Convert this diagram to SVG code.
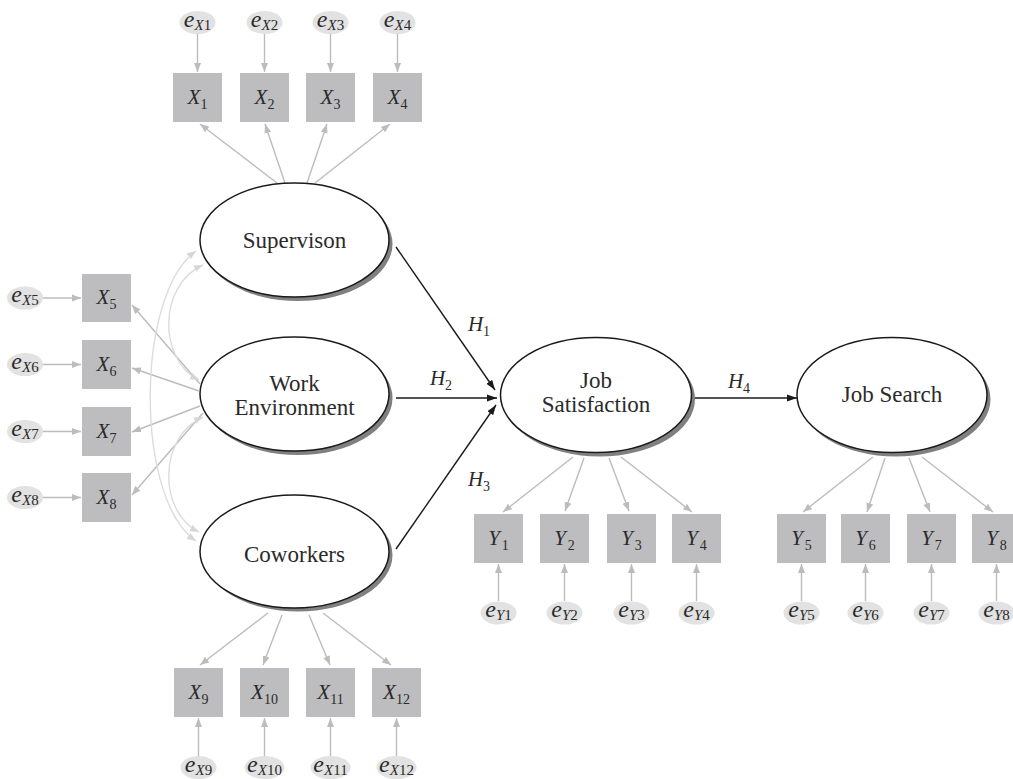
<svg xmlns="http://www.w3.org/2000/svg" width="1013" height="779" viewBox="0 0 1013 779">
<defs>
<style>
.box{fill:#bdbdc0;}
.err{fill:#e2e2e2;}
.lat{fill:#fff;stroke:#1a1a1a;stroke-width:1.5;}
.shd{fill:#808080;}
.t{font-family:'Liberation Serif','Times New Roman','DejaVu Serif',serif;fill:#2a2a2a;}
.big{font-size:23px;text-anchor:middle;}
.var{font-size:21px;text-anchor:middle;}
.hl{font-size:21px;text-anchor:middle;}
.ev{font-size:24px;text-anchor:middle;}
.it{font-style:italic;}
.ld{stroke:#bcbcbc;stroke-width:1.4;fill:none;marker-end:url(#ag);}
.cv{stroke:#dcdcdc;stroke-width:1.4;fill:none;marker-end:url(#al);marker-start:url(#al);}
.st{stroke:#1a1a1a;stroke-width:1.4;fill:none;marker-end:url(#ab);}
</style>
<marker id="ag" markerUnits="userSpaceOnUse" markerWidth="10" markerHeight="8" refX="9" refY="4" orient="auto"><path d="M0,0.5 L9,4 L0,7.5 z" fill="#bcbcbc"/></marker>
<marker id="al" markerUnits="userSpaceOnUse" markerWidth="10" markerHeight="8" refX="9" refY="4" orient="auto-start-reverse"><path d="M0,0.5 L9,4 L0,7.5 z" fill="#d6d6d6"/></marker>
<marker id="ab" markerUnits="userSpaceOnUse" markerWidth="11" markerHeight="8" refX="10" refY="4" orient="auto"><path d="M0,0.5 L10,4 L0,7.5 z" fill="#1a1a1a"/></marker>
</defs>
<rect width="1013" height="779" fill="#fff"/>

<g id="connectors">
<line class="ld" x1="197.5" y1="34" x2="197.5" y2="72"/>
<line class="ld" x1="264.5" y1="34" x2="264.5" y2="72"/>
<line class="ld" x1="330.5" y1="34" x2="330.5" y2="72"/>
<line class="ld" x1="397.5" y1="34" x2="397.5" y2="72"/>
<line class="ld" x1="43" y1="298" x2="81" y2="298"/>
<line class="ld" x1="43" y1="364.5" x2="81" y2="364.5"/>
<line class="ld" x1="43" y1="431.5" x2="81" y2="431.5"/>
<line class="ld" x1="43" y1="497.5" x2="81" y2="497.5"/>
<line class="ld" x1="198.5" y1="756" x2="198.5" y2="718"/>
<line class="ld" x1="264.5" y1="756" x2="264.5" y2="718"/>
<line class="ld" x1="330.5" y1="756" x2="330.5" y2="718"/>
<line class="ld" x1="396.5" y1="756" x2="396.5" y2="718"/>
<line class="ld" x1="498.5" y1="601" x2="498.5" y2="564"/>
<line class="ld" x1="564.5" y1="601" x2="564.5" y2="564"/>
<line class="ld" x1="631.5" y1="601" x2="631.5" y2="564"/>
<line class="ld" x1="696.5" y1="601" x2="696.5" y2="564"/>
<line class="ld" x1="801.5" y1="601" x2="801.5" y2="564"/>
<line class="ld" x1="865.5" y1="601" x2="865.5" y2="564"/>
<line class="ld" x1="931.5" y1="601" x2="931.5" y2="564"/>
<line class="ld" x1="996.5" y1="601" x2="996.5" y2="564"/>
<line class="ld" x1="277" y1="183" x2="200" y2="124"/>
<line class="ld" x1="285" y1="183" x2="265" y2="124"/>
<line class="ld" x1="307" y1="183" x2="327" y2="124"/>
<line class="ld" x1="315" y1="183" x2="390" y2="124"/>
<line class="ld" x1="200" y1="384" x2="132" y2="305"/>
<line class="ld" x1="199" y1="391" x2="132" y2="368"/>
<line class="ld" x1="200" y1="406" x2="132" y2="432"/>
<line class="ld" x1="203" y1="413" x2="132" y2="495"/>
<line class="ld" x1="268" y1="613" x2="200" y2="665"/>
<line class="ld" x1="282" y1="615" x2="263" y2="665"/>
<line class="ld" x1="309" y1="615" x2="330" y2="665"/>
<line class="ld" x1="323" y1="613" x2="391" y2="665"/>
<line class="ld" x1="573" y1="457" x2="503" y2="512"/>
<line class="ld" x1="584" y1="458" x2="565" y2="511"/>
<line class="ld" x1="609" y1="458" x2="629" y2="511"/>
<line class="ld" x1="621" y1="457" x2="692" y2="512"/>
<line class="ld" x1="873" y1="457" x2="803" y2="512"/>
<line class="ld" x1="885" y1="458" x2="867" y2="512"/>
<line class="ld" x1="909" y1="458" x2="930" y2="512"/>
<line class="ld" x1="922" y1="457" x2="993" y2="512"/>
<path class="cv" d="M196,251 C135,295 135,500 196,541"/>
<path class="cv" d="M203,265 C158,285 158,360 199,380"/>
<path class="cv" d="M203,417 C158,437 158,512 199,532"/>
<line class="st" x1="396" y1="247" x2="495" y2="390"/>
<line class="st" x1="396" y1="398" x2="497" y2="398"/>
<line class="st" x1="396" y1="549" x2="496" y2="405"/>
<line class="st" x1="693" y1="398" x2="797" y2="398"/>
<text class="t hl it" x="479" y="331">H<tspan font-size="14" font-style="normal" dy="5">1</tspan></text>
<text class="t hl it" x="441" y="385">H<tspan font-size="14" font-style="normal" dy="5">2</tspan></text>
<text class="t hl it" x="479" y="486">H<tspan font-size="14" font-style="normal" dy="5">3</tspan></text>
<text class="t hl it" x="739" y="388">H<tspan font-size="14" font-style="normal" dy="5">4</tspan></text>
</g>

<g id="supervision">
<ellipse class="shd" cx="298" cy="244" rx="94.5" ry="57"/>
<ellipse class="lat" cx="294.5" cy="240" rx="94.5" ry="57"/>
<text class="t big" x="294.5" y="248">Supervison</text>
</g>
<g id="work-environment">
<ellipse class="shd" cx="298" cy="398" rx="94.5" ry="57"/>
<ellipse class="lat" cx="294.5" cy="394" rx="94.5" ry="57"/>
<text class="t big" x="294.5" y="391">Work</text>
<text class="t big" x="294.5" y="415">Environment</text>
</g>
<g id="coworkers">
<ellipse class="shd" cx="298" cy="555" rx="94.5" ry="56.5"/>
<ellipse class="lat" cx="294.5" cy="551.5" rx="94.5" ry="56.5"/>
<text class="t big" x="294.5" y="562">Coworkers</text>
</g>
<g id="job-satisfaction">
<ellipse class="shd" cx="599.5" cy="399" rx="95.5" ry="57.5"/>
<ellipse class="lat" cx="596" cy="395" rx="95.5" ry="57.5"/>
<text class="t big" x="596" y="388">Job</text>
<text class="t big" x="596" y="412">Satisfaction</text>
</g>
<g id="job-search">
<ellipse class="shd" cx="895.5" cy="399" rx="95" ry="57.5"/>
<ellipse class="lat" cx="892" cy="395" rx="95" ry="57.5"/>
<text class="t big" x="892" y="402">Job Search</text>
</g>

<g id="X1"><rect class="box" x="173" y="73" width="49" height="49"/><text class="t var it" x="197.5" y="104">X<tspan font-size="14" font-style="normal" dy="5">1</tspan></text></g>
<g id="X2"><rect class="box" x="240" y="73" width="49" height="49"/><text class="t var it" x="264.5" y="104">X<tspan font-size="14" font-style="normal" dy="5">2</tspan></text></g>
<g id="X3"><rect class="box" x="306" y="73" width="49" height="49"/><text class="t var it" x="330.5" y="104">X<tspan font-size="14" font-style="normal" dy="5">3</tspan></text></g>
<g id="X4"><rect class="box" x="373" y="73" width="49" height="49"/><text class="t var it" x="397.5" y="104">X<tspan font-size="14" font-style="normal" dy="5">4</tspan></text></g>
<g id="X5"><rect class="box" x="82" y="274" width="49" height="48"/><text class="t var it" x="106.5" y="304">X<tspan font-size="14" font-style="normal" dy="5">5</tspan></text></g>
<g id="X6"><rect class="box" x="82" y="340" width="49" height="49"/><text class="t var it" x="106.5" y="371">X<tspan font-size="14" font-style="normal" dy="5">6</tspan></text></g>
<g id="X7"><rect class="box" x="82" y="407" width="49" height="49"/><text class="t var it" x="106.5" y="438">X<tspan font-size="14" font-style="normal" dy="5">7</tspan></text></g>
<g id="X8"><rect class="box" x="82" y="473" width="49" height="49"/><text class="t var it" x="106.5" y="504">X<tspan font-size="14" font-style="normal" dy="5">8</tspan></text></g>
<g id="X9"><rect class="box" x="174" y="668" width="49" height="49"/><text class="t var it" x="198.5" y="699">X<tspan font-size="14" font-style="normal" dy="5">9</tspan></text></g>
<g id="X10"><rect class="box" x="240" y="668" width="49" height="49"/><text class="t var it" x="264.5" y="699">X<tspan font-size="14" font-style="normal" dy="5">10</tspan></text></g>
<g id="X11"><rect class="box" x="306" y="668" width="49" height="49"/><text class="t var it" x="330.5" y="699">X<tspan font-size="14" font-style="normal" dy="5">11</tspan></text></g>
<g id="X12"><rect class="box" x="372" y="668" width="49" height="49"/><text class="t var it" x="396.5" y="699">X<tspan font-size="14" font-style="normal" dy="5">12</tspan></text></g>
<g id="Y1"><rect class="box" x="474" y="514" width="49" height="49"/><text class="t var it" x="498.5" y="545">Y<tspan font-size="14" font-style="normal" dy="5" dx="2">1</tspan></text></g>
<g id="Y2"><rect class="box" x="540" y="514" width="49" height="49"/><text class="t var it" x="564.5" y="545">Y<tspan font-size="14" font-style="normal" dy="5" dx="2">2</tspan></text></g>
<g id="Y3"><rect class="box" x="607" y="514" width="49" height="49"/><text class="t var it" x="631.5" y="545">Y<tspan font-size="14" font-style="normal" dy="5" dx="2">3</tspan></text></g>
<g id="Y4"><rect class="box" x="672" y="514" width="49" height="49"/><text class="t var it" x="696.5" y="545">Y<tspan font-size="14" font-style="normal" dy="5" dx="2">4</tspan></text></g>
<g id="Y5"><rect class="box" x="777" y="514" width="49" height="49"/><text class="t var it" x="801.5" y="545">Y<tspan font-size="14" font-style="normal" dy="5" dx="2">5</tspan></text></g>
<g id="Y6"><rect class="box" x="841" y="514" width="49" height="49"/><text class="t var it" x="865.5" y="545">Y<tspan font-size="14" font-style="normal" dy="5" dx="2">6</tspan></text></g>
<g id="Y7"><rect class="box" x="907" y="514" width="49" height="49"/><text class="t var it" x="931.5" y="545">Y<tspan font-size="14" font-style="normal" dy="5" dx="2">7</tspan></text></g>
<g id="Y8"><rect class="box" x="972" y="514" width="49" height="49"/><text class="t var it" x="996.5" y="545">Y<tspan font-size="14" font-style="normal" dy="5" dx="2">8</tspan></text></g>

<g id="eX1"><ellipse class="err" cx="197.5" cy="22.5" rx="18" ry="11.5"/><text class="t ev it" x="197.5" y="26.5">e<tspan font-size="15" dy="3">X</tspan><tspan font-size="15" font-style="normal">1</tspan></text></g>
<g id="eX2"><ellipse class="err" cx="264.5" cy="22.5" rx="18" ry="11.5"/><text class="t ev it" x="264.5" y="26.5">e<tspan font-size="15" dy="3">X</tspan><tspan font-size="15" font-style="normal">2</tspan></text></g>
<g id="eX3"><ellipse class="err" cx="330.5" cy="22.5" rx="18" ry="11.5"/><text class="t ev it" x="330.5" y="26.5">e<tspan font-size="15" dy="3">X</tspan><tspan font-size="15" font-style="normal">3</tspan></text></g>
<g id="eX4"><ellipse class="err" cx="397.5" cy="22.5" rx="18" ry="11.5"/><text class="t ev it" x="397.5" y="26.5">e<tspan font-size="15" dy="3">X</tspan><tspan font-size="15" font-style="normal">4</tspan></text></g>
<g id="eX5"><ellipse class="err" cx="25" cy="298" rx="18" ry="11.5"/><text class="t ev it" x="25" y="302">e<tspan font-size="15" dy="3">X</tspan><tspan font-size="15" font-style="normal">5</tspan></text></g>
<g id="eX6"><ellipse class="err" cx="25" cy="364.5" rx="18" ry="11.5"/><text class="t ev it" x="25" y="368.5">e<tspan font-size="15" dy="3">X</tspan><tspan font-size="15" font-style="normal">6</tspan></text></g>
<g id="eX7"><ellipse class="err" cx="25" cy="431.5" rx="18" ry="11.5"/><text class="t ev it" x="25" y="435.5">e<tspan font-size="15" dy="3">X</tspan><tspan font-size="15" font-style="normal">7</tspan></text></g>
<g id="eX8"><ellipse class="err" cx="25" cy="497.5" rx="18" ry="11.5"/><text class="t ev it" x="25" y="501.5">e<tspan font-size="15" dy="3">X</tspan><tspan font-size="15" font-style="normal">8</tspan></text></g>
<g id="eX9"><ellipse class="err" cx="198.5" cy="767.5" rx="18" ry="11.5"/><text class="t ev it" x="198.5" y="771.5">e<tspan font-size="15" dy="3">X</tspan><tspan font-size="15" font-style="normal">9</tspan></text></g>
<g id="eX10"><ellipse class="err" cx="264.5" cy="767.5" rx="20" ry="11.5"/><text class="t ev it" x="264.5" y="771.5">e<tspan font-size="15" dy="3">X</tspan><tspan font-size="15" font-style="normal">10</tspan></text></g>
<g id="eX11"><ellipse class="err" cx="330.5" cy="767.5" rx="20" ry="11.5"/><text class="t ev it" x="330.5" y="771.5">e<tspan font-size="15" dy="3">X</tspan><tspan font-size="15" font-style="normal">11</tspan></text></g>
<g id="eX12"><ellipse class="err" cx="396.5" cy="767.5" rx="20" ry="11.5"/><text class="t ev it" x="396.5" y="771.5">e<tspan font-size="15" dy="3">X</tspan><tspan font-size="15" font-style="normal">12</tspan></text></g>
<g id="eY1"><ellipse class="err" cx="498.5" cy="613" rx="18" ry="11.5"/><text class="t ev it" x="498.5" y="617">e<tspan font-size="15" dy="3">Y</tspan><tspan font-size="15" font-style="normal">1</tspan></text></g>
<g id="eY2"><ellipse class="err" cx="564.5" cy="613" rx="18" ry="11.5"/><text class="t ev it" x="564.5" y="617">e<tspan font-size="15" dy="3">Y</tspan><tspan font-size="15" font-style="normal">2</tspan></text></g>
<g id="eY3"><ellipse class="err" cx="631.5" cy="613" rx="18" ry="11.5"/><text class="t ev it" x="631.5" y="617">e<tspan font-size="15" dy="3">Y</tspan><tspan font-size="15" font-style="normal">3</tspan></text></g>
<g id="eY4"><ellipse class="err" cx="696.5" cy="613" rx="18" ry="11.5"/><text class="t ev it" x="696.5" y="617">e<tspan font-size="15" dy="3">Y</tspan><tspan font-size="15" font-style="normal">4</tspan></text></g>
<g id="eY5"><ellipse class="err" cx="801.5" cy="613" rx="18" ry="11.5"/><text class="t ev it" x="801.5" y="617">e<tspan font-size="15" dy="3">Y</tspan><tspan font-size="15" font-style="normal">5</tspan></text></g>
<g id="eY6"><ellipse class="err" cx="865.5" cy="613" rx="18" ry="11.5"/><text class="t ev it" x="865.5" y="617">e<tspan font-size="15" dy="3">Y</tspan><tspan font-size="15" font-style="normal">6</tspan></text></g>
<g id="eY7"><ellipse class="err" cx="931.5" cy="613" rx="18" ry="11.5"/><text class="t ev it" x="931.5" y="617">e<tspan font-size="15" dy="3">Y</tspan><tspan font-size="15" font-style="normal">7</tspan></text></g>
<g id="eY8"><ellipse class="err" cx="996.5" cy="613" rx="18" ry="11.5"/><text class="t ev it" x="996.5" y="617">e<tspan font-size="15" dy="3">Y</tspan><tspan font-size="15" font-style="normal">8</tspan></text></g>
</svg>
